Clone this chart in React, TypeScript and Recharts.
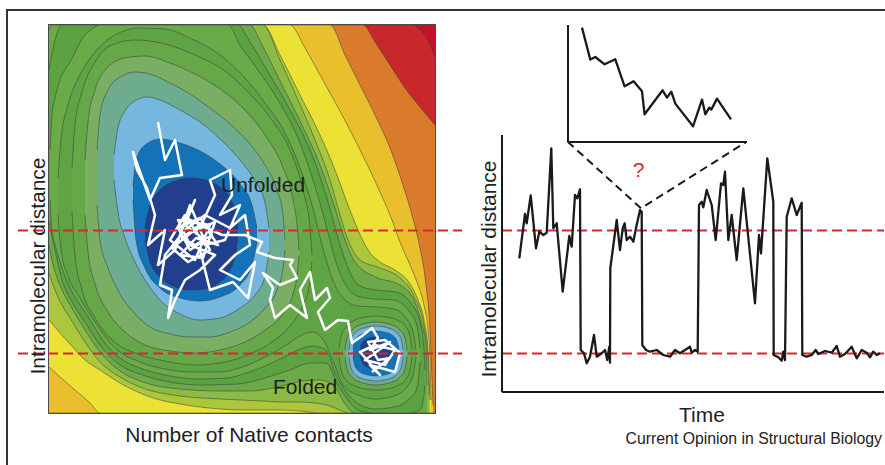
import { Area, ComposedChart, Line, ReferenceLine, XAxis, YAxis } from "recharts";

const FONT = "'Liberation Sans', Arial, Helvetica, sans-serif";

// ---- left panel: free-energy landscape ----
// x = number of native contacts (0..386), y = intramolecular distance (0..388), arbitrary units
// each band row: [contacts, distance low, distance high]
const RED_BAND = [[0,0,388],[364,0,388],[371,0,383],[379,0,373],[386,0,355]];
const ORANGE_BAND = [[0,0,388],[314,0,388],[326,0,371],[341,0,348],[356,0,325],[371,0,306],[386,0,288]];
const GOLD_BAND = [[0,0,388],[281,0,388],[296,0,358],[311,0,328],[326,0,298],[341,0,265],[353,0,231],[363,0,198],[371,0,165],[377,0,128],[381,0,83],[383,0,33],[384,0,8]];
const YELLOW_BAND = [[0,46,388],[11,36,388],[26,23,388],[41,10,388],[51,0,388],[241,0,388],[256,0,365],[271,0,338],[286,0,311],[301,0,283],[316,0,253],[331,0,221],[343,0,193],[351,0,171],[361,0,148],[369,0,128],[375,0,108],[379,0,83],[381,0,53],[382,0,13]];
const LIME_BAND = [[0,93,388],[11,80,388],[21,69,388],[36,53,388],[51,43,388],[71,30,388],[91,20,388],[111,13,388],[131,9,388],[151,6,388],[171,4,388],[191,3,388],[214,3,388],[231,3,358],[251,2,318],[271,0,278],[286,0,243],[299,0,208],[309,0,183],[319,0,163],[331,0,151],[346,0,143],[361,0,129],[369,0,113],[375,0,93],[379,0,63],[381,0,13]];
const GREEN_1 = [[0,140,388],[6,123,388],[13,108,388],[21,95,388],[36,71,388],[51,51,388],[71,36,388],[91,26,388],[131,17,388],[171,14,388],[214,12,388],[231,11,353],[249,11,313],[266,10,273],[281,7,233],[291,3,198],[299,0,173],[311,0,153],[331,0,145],[351,0,135],[365,0,117],[375,0,87],[379,0,55],[380,0,18]];
const GREEN_2 = [[0,168,383],[3,153,388],[13,123,388],[21,108,388],[36,83,388],[51,61,388],[71,42,388],[91,32,388],[131,24,388],[171,22,388],[201,22,388],[213,23,368],[233,27,328],[253,32,288],[271,33,248],[285,27,208],[296,9,173],[306,0,151],[329,0,135],[349,0,129],[364,0,115],[373,0,88],[377,0,68],[378,0,28]];
const GREEN_3 = [[0,191,343],[6,163,373],[13,133,388],[21,115,388],[36,91,388],[51,68,388],[71,48,388],[91,39,388],[111,33,388],[151,28,388],[189,29,388],[201,31,371],[219,36,341],[241,43,303],[261,50,263],[277,50,218],[289,28,175],[299,13,145],[311,2,127],[327,0,123],[347,0,121],[361,0,111],[371,3,91],[375,18,65],[376,28,43]];
const GREEN_4 = [[1,213,263],[3,181,298],[6,168,315],[11,151,333],[21,125,351],[36,101,378],[46,85,386],[51,77,388],[71,55,388],[91,45,388],[116,38,388],[151,34,388],[179,35,388],[191,38,368],[209,44,343],[229,53,313],[249,63,275],[264,67,233],[277,63,188],[287,38,151],[298,20,126],[311,8,116],[327,4,114],[345,6,113],[359,13,103],[368,25,87],[371,51,65]];
const GREEN_5 = [[9,198,235],[12,163,273],[19,137,308],[31,115,338],[46,91,361],[66,65,378],[91,51,385],[116,44,384],[141,41,375],[171,41,358],[196,47,335],[216,56,310],[236,67,280],[251,77,245],[263,81,208],[273,75,168],[283,55,135],[294,28,115],[309,18,107],[327,14,106],[345,17,104],[357,25,95],[364,37,81],[367,56,63]];

// unfolded basin rings
const UNF_GREEN_6 = [[23,201,245],[26,158,288],[33,123,321],[46,95,351],[63,73,368],[86,60,373],[116,52,369],[146,48,358],[176,51,342],[201,59,319],[223,71,293],[241,87,263],[254,108,223],[261,131,185],[263,151,158]];
const UNF_GREEN_7 = [[36,198,253],[39,161,291],[46,129,323],[59,101,346],[76,81,355],[96,68,357],[121,62,350],[146,60,339],[171,63,324],[196,71,303],[216,83,278],[233,98,248],[244,119,213],[249,145,178],[250,157,163]];
const UNF_TEAL = [[48,208,263],[51,173,298],[59,145,323],[71,119,336],[86,99,341],[101,86,339],[121,79,330],[141,76,319],[161,76,305],[181,81,289],[201,91,269],[216,105,248],[228,123,223],[234,145,198],[236,163,173]];
const UNF_LIGHT = [[65,233,258],[69,201,285],[76,175,302],[86,151,312],[98,130,316],[111,113,313],[131,99,303],[151,93,291],[171,95,274],[191,105,253],[206,118,232],[216,137,210],[220,161,185]];
const UNF_BLUE = [[84,213,227],[87,173,253],[96,145,268],[111,125,274],[131,115,270],[151,112,262],[171,116,249],[191,128,229],[203,148,208],[208,171,185]];
const UNF_NAVY = [[96,173,187],[101,151,208],[111,136,223],[126,126,232],[141,123,235],[156,124,233],[171,131,226],[181,143,215],[187,161,199],[189,177,185]];

// folded basin rings
const FOLD_GREEN_6 = [[290,56,64],[292,43,77],[297,33,86],[306,27,93],[317,24,96],[327,23,97],[337,24,96],[348,27,93],[357,34,86],[361,43,77],[363,56,64]];
const FOLD_TEAL = [[296,56,63],[298,44,75],[303,36,83],[311,31,88],[327,28,91],[343,31,88],[351,36,83],[356,44,75],[358,56,63]];
const FOLD_LIGHT = [[300,56,63],[302,45,74],[307,38,81],[315,34,85],[327,32,87],[339,34,85],[347,38,81],[352,45,74],[354,56,63]];
const FOLD_BLUE = [[304,56,64],[306,47,72],[311,41,78],[319,38,81],[327,37,82],[335,38,81],[343,41,78],[348,47,72],[350,56,64]];
const FOLD_NAVY = [[311,57,63],[313,51,70],[318,46,74],[325,44,76],[332,45,75],[338,49,72],[342,54,67],[343,59,62]];

// simulated trajectory: [contacts, distance]
const TRAJECTORY = [
  [109,291],[116,253],[126,273],[133,238],[111,235],[101,213],[84,261],[88,243],[98,225],[106,198],
  [99,168],[116,183],[109,148],[126,163],[141,208],[151,185],[166,218],[161,233],[181,243],[183,218],
  [171,198],[191,208],[176,173],[156,168],[136,198],[121,173],[146,153],[161,188],[129,193],[141,168],
  [166,158],[151,143],[136,133],[126,113],[119,95],[123,123],[111,128],[116,158],[136,183],[156,198],
  [181,185],[196,198],[201,168],[186,158],[171,143],[191,133],[206,151],[199,115],[184,131],[161,123],
  [151,163],[131,178],[146,213],
  [136,188],[156,173],[141,163],[129,185],[151,195],[163,178],[146,168],[133,175],[149,187],[161,163],
  [139,151],[123,165],[143,181],[166,191],[154,155],[131,158],[147,175],[169,168],[157,185],[137,195],
  [173,178],[196,178],[213,171],[208,161],[226,155],[244,153],[241,148],
  [248,135],[231,128],[214,140],[224,125],[221,113],[226,95],[241,108],[258,95],[251,123],[261,141],
  [266,113],[278,125],[281,115],[269,101],[276,83],[289,93],[299,92],[303,70],[313,77],[323,85],
  [329,75],[321,63],[341,71],[316,53],[336,48],[346,63],[326,68],[311,61],[331,38],[321,48],
  [346,41],[351,60],[336,73],[319,71],[329,53],[341,55],[323,41],
];

// the two states marked by the dashed lines (same distance units)
const STATES = [
  { name: "Unfolded", d: 182.5 },
  { name: "Folded", d: 59.5 },
];

// ---- right panel: distance vs time, [time, distance] ----
const TRACE = [
  [17.3,154.7],[23,199],[24.7,189.7],[28.7,217.7],[34,164.7],[37.3,181.3],[41.3,178],[44.7,180.3],[49.3,264.7],[51.3,184.7],
  [54.7,189.7],[60.7,121.3],[67.3,177],[69.7,166.3],[73,218],[75.3,214.7],[78,223.7],[78.7,63],[82,59.7],[84.7,49.7],
  [88,56.3],[92,78],[94.7,56.3],[99.7,59.7],[103,63],[105.3,53],[107.3,66.3],[108,50.3],[108.3,144.7],[114.7,193],
  [118,163],[120.7,184.7],[122.7,189.7],[124.7,173],[128,176.3],[131.3,171.3],[134,184.7],[138,203],[139.7,201.3],[140.3,68],
  [144,63],[148,61.3],[154.7,63],[161.3,58],[168,56.3],[173,63],[178,59.7],[188,66.3],[189.7,60.3],[193,63],
  [195.7,61.3],[197,208],[199.7,211.3],[201.3,205.7],[204.7,223],[209.7,208],[213.7,173],[219,229.7],[221.3,228],[223,241.3],
  [226.3,173],[229.7,198],[234.7,153],[241.3,224.7],[253,109.7],[257,178],[259,159.7],[265.3,254.7],[271.3,211.3],[271.7,58],
  [276.3,55.7],[279.7,52.3],[281.3,61.3],[283,53],[284.7,196.3],[289.7,214.7],[294.7,198],[299.7,210.3],[300.3,58],[304.7,56.3],
  [309.7,58],[313.7,63],[316.3,59],[323,62],[329.7,60.3],[334.7,67],[338,56.3],[343,59],[349.7,66.3],[354.7,54.7],
  [359.7,63],[364.7,60.3],[368,55.7],[371.3,61.3],[374.7,58],[378,59.7],
];

// dashed zoom link from the inset corners to the point in question
const ZOOM_LINK = [[65.7,271.3],[139,204.7],[244.7,271.3]];

// inset: magnified stretch of the transition, [time, distance]
const INSET_TRACE = [
  [14,114.4],[22.3,82.4],[27.3,85],[36.6,77.7],[47.3,82.7],[56.6,55.7],[65.6,60.7],[74,50.7],[76.6,27.7],[94.6,51.7],
  [99,44.4],[103.3,50.4],[107.3,38.4],[125,15.7],[134,42.4],[137.3,27.7],[141.3,34.4],[143.3,32.4],[149,43.4],[163,22.7],
];

const BANDS = [
  { id: "red", rows: RED_BAND, fill: "#c8282b" },
  { id: "orange", rows: ORANGE_BAND, fill: "#d97b2a" },
  { id: "gold", rows: GOLD_BAND, fill: "#eabf2d" },
  { id: "yellow", rows: YELLOW_BAND, fill: "#ece236" },
  { id: "lime", rows: LIME_BAND, fill: "#acc73b" },
  { id: "g1", rows: GREEN_1, fill: "#8cbb45" },
  { id: "g2", rows: GREEN_2, fill: "#6ca948" },
  { id: "g3", rows: GREEN_3, fill: "#5ba243" },
  { id: "g4", rows: GREEN_4, fill: "#6aaa49" },
  { id: "g5", rows: GREEN_5, fill: "#5ea444" },
  { id: "u6", rows: UNF_GREEN_6, fill: "#66a848" },
  { id: "u7", rows: UNF_GREEN_7, fill: "#79ae63" },
  { id: "uteal", rows: UNF_TEAL, fill: "#6dac8e" },
  { id: "ulight", rows: UNF_LIGHT, fill: "#75b7de" },
  { id: "ublue", rows: UNF_BLUE, fill: "#1472b8" },
  { id: "unavy", rows: UNF_NAVY, fill: "#223f8e" },
  { id: "f6", rows: FOLD_GREEN_6, fill: "#66a848" },
  { id: "fteal", rows: FOLD_TEAL, fill: "#6dac8e" },
  { id: "flight", rows: FOLD_LIGHT, fill: "#75b7de" },
  { id: "fblue", rows: FOLD_BLUE, fill: "#1472b8" },
  { id: "fnavy", rows: FOLD_NAVY, fill: "#223f8e" },
];

const NO_MARGIN = { top: 0, right: 0, bottom: 0, left: 0 };
const AXIS_LINE = { stroke: "#1a1a1a", strokeWidth: 2 };
const RED_DASH = { stroke: "#d7262e", strokeWidth: 2.2, strokeDasharray: "10 5" };

const bandRows = (rows: number[][]) => rows.map(([n, lo, hi]) => ({ n, r: [lo, hi] }));
const pairRows = (rows: number[][], k: string) => rows.map(([a, d]) => ({ [k]: a, d }));

function Label({ x, y, size = 21, color = "#1e1e1e", anchor = "left", rotate = false, children }: any) {
  const shift = anchor === "center" ? "translateX(-50%)" : anchor === "right" ? "translateX(-100%)" : "";
  const style: any = {
    position: "absolute",
    left: x,
    top: y,
    fontSize: size,
    lineHeight: `${size}px`,
    color,
    whiteSpace: "nowrap",
    transform: rotate ? "translate(-50%, -50%) rotate(-90deg)" : shift,
  };
  return <div style={style}>{children}</div>;
}

export default function App() {
  return (
    <div
      style={{
        position: "absolute",
        left: 0,
        top: 0,
        width: 885,
        height: 465,
        background: "#fff",
        overflow: "hidden",
        fontFamily: FONT,
      }}
    >
      <div
        style={{
          position: "absolute",
          left: 6,
          top: 9,
          width: 890,
          height: 470,
          borderTop: "2px solid #333",
          borderLeft: "2px solid #333",
        }}
      />

      {/* energy landscape */}
      <div
        style={{
          position: "absolute",
          left: 49,
          top: 25,
          width: 386,
          height: 388,
          background: "#c3102f",
          outline: "1.5px solid #4a4a4a",
        }}
      >
        <ComposedChart width={386} height={388} margin={NO_MARGIN}>
          <XAxis type="number" dataKey="n" domain={[0, 386]} hide allowDataOverflow />
          <YAxis type="number" domain={[0, 388]} hide allowDataOverflow />
          {BANDS.map((b) => (
            <Area
              key={b.id}
              data={bandRows(b.rows)}
              dataKey="r"
              type="monotone"
              fill={b.fill}
              fillOpacity={1}
              stroke="#3a3a3a"
              strokeOpacity={0.75}
              strokeWidth={0.7}
              dot={false}
              activeDot={false}
              isAnimationActive={false}
            />
          ))}
          <Line
            data={pairRows(TRAJECTORY, "n")}
            dataKey="d"
            type="linear"
            stroke="#ffffff"
            strokeWidth={2.5}
            strokeLinejoin="round"
            dot={false}
            activeDot={false}
            isAnimationActive={false}
          />
        </ComposedChart>
      </div>

      {/* dashed state levels across the landscape */}
      <div style={{ position: "absolute", left: 18, top: 25 }}>
        <ComposedChart width={444} height={388} margin={NO_MARGIN} data={STATES}>
          <XAxis dataKey="name" hide />
          <YAxis type="number" domain={[0, 388]} hide allowDataOverflow />
          {STATES.map((s) => (
            <ReferenceLine key={s.name} y={s.d} {...RED_DASH} />
          ))}
        </ComposedChart>
      </div>

      {/* time trace */}
      <div style={{ position: "absolute", left: 492, top: 125 }}>
        <ComposedChart width={393} height={277} margin={{ top: 10, right: 1, bottom: 0, left: 0 }}>
          <XAxis
            type="number"
            dataKey="t"
            domain={[0, 382]}
            allowDataOverflow
            height={10}
            tick={false}
            tickLine={false}
            axisLine={AXIS_LINE}
          />
          <YAxis
            type="number"
            domain={[21, 278]}
            allowDataOverflow
            width={10}
            tick={false}
            tickLine={false}
            axisLine={AXIS_LINE}
          />
          {STATES.map((s) => (
            <ReferenceLine key={s.name} y={s.d} {...RED_DASH} />
          ))}
          <Line
            data={pairRows(TRACE, "t")}
            dataKey="d"
            type="linear"
            stroke="#1a1a1a"
            strokeWidth={2.3}
            strokeLinejoin="round"
            dot={false}
            activeDot={false}
            isAnimationActive={false}
          />
          <Line
            data={pairRows(ZOOM_LINK, "t")}
            dataKey="d"
            type="linear"
            stroke="#1a1a1a"
            strokeWidth={2}
            strokeDasharray="8 5"
            dot={false}
            activeDot={false}
            isAnimationActive={false}
          />
        </ComposedChart>
      </div>

      {/* inset */}
      <div style={{ position: "absolute", left: 558, top: 20 }}>
        <ComposedChart width={189} height={132} margin={{ top: 5, right: 0, bottom: 0, left: 0 }}>
          <XAxis
            type="number"
            dataKey="t"
            domain={[0, 179]}
            allowDataOverflow
            height={10}
            tick={false}
            tickLine={false}
            axisLine={AXIS_LINE}
          />
          <YAxis
            type="number"
            domain={[0, 117]}
            allowDataOverflow
            width={10}
            tick={false}
            tickLine={false}
            axisLine={AXIS_LINE}
          />
          <Line
            data={pairRows(INSET_TRACE, "t")}
            dataKey="d"
            type="linear"
            stroke="#1a1a1a"
            strokeWidth={2.3}
            strokeLinejoin="round"
            dot={false}
            activeDot={false}
            isAnimationActive={false}
          />
        </ComposedChart>
      </div>

      <Label x={37} y={266} rotate>Intramolecular distance</Label>
      <Label x={488} y={269} rotate>Intramolecular distance</Label>
      <Label x={221} y={174}>Unfolded</Label>
      <Label x={273} y={376}>Folded</Label>
      <Label x={249} y={424} anchor="center">Number of Native contacts</Label>
      <Label x={702} y={404} anchor="center">Time</Label>
      <Label x={638.5} y={159} anchor="center" color="#d42a2f">?</Label>
      <Label x={882} y={431} size={15.8} anchor="right" color="#222">
        Current Opinion in Structural Biology
      </Label>
    </div>
  );
}
